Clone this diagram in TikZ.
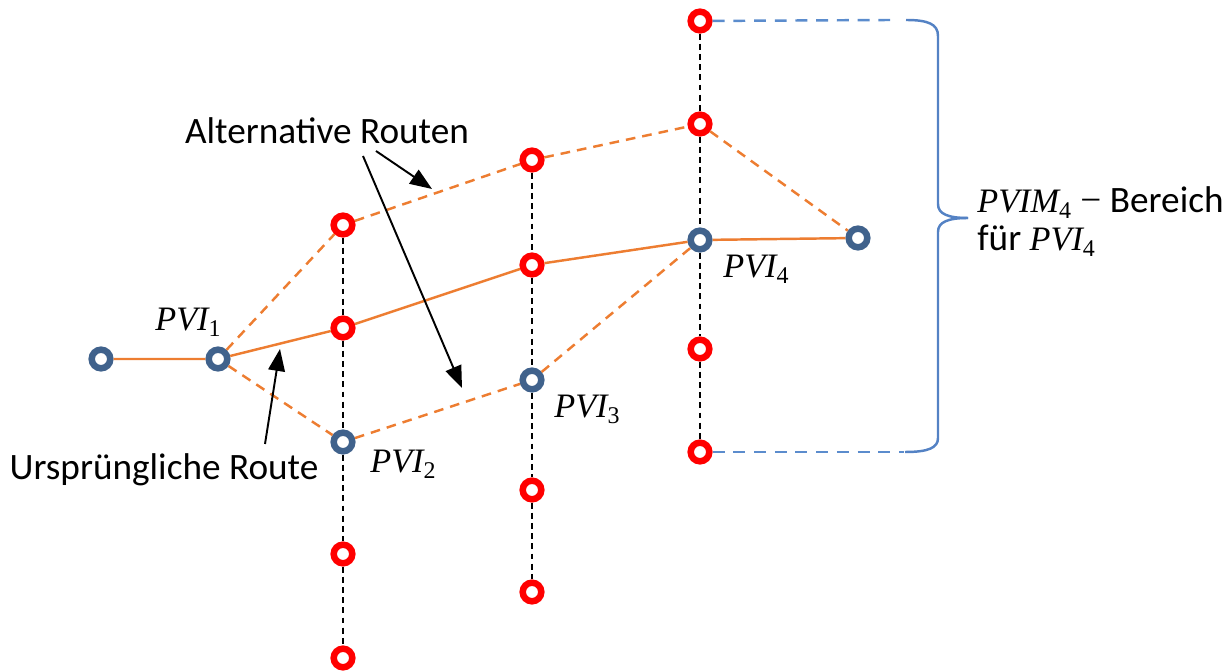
\documentclass[tikz,border=0pt]{standalone}
\usepackage{fontspec}
\setmainfont{Carlito}
\newfontfamily\mathfnt{Liberation Serif}
\newcommand\pvlabel[2]{{\mathfnt\itshape #1}\textsubscript{\mathfnt #2}}
\usetikzlibrary{arrows.meta}
\definecolor{routeorange}{RGB}{237,125,49}
\definecolor{pviblue}{RGB}{64,98,140}
\definecolor{braceblue}{RGB}{84,130,196}
\definecolor{dashblue}{RGB}{91,140,205}
\tikzset{
  ring/.style={circle, line width=3.7pt, fill=white, inner sep=0pt, minimum size=10.6pt},
  rnode/.style={ring, draw=red},
  bnode/.style={ring, draw=pviblue},
  route/.style={draw=routeorange, line width=1.4pt},
  altroute/.style={draw=routeorange, line width=1.4pt, dash pattern=on 5.5pt off 4pt},
  vline/.style={draw=black, line width=1.3pt, dash pattern=on 3.4pt off 2.4pt},
  hint/.style={draw=black, line width=1.1pt, -{Triangle[length=12.5pt,width=9.5pt]}},
  bline/.style={draw=dashblue, line width=1.4pt, dash pattern=on 6.8pt off 5pt},
  bracestyle/.style={draw=braceblue, line width=1.4pt},
  lbl/.style={inner sep=0pt, anchor=base west},
  mlbl/.style={inner sep=0pt, anchor=base west, font=\fontsize{19.5}{23}\selectfont}
}
\begin{document}
\begin{tikzpicture}[x=0.02cm, y=-0.02cm, font=\fontsize{21.2}{25}\selectfont]
\useasboundingbox (0,0) rectangle (1228,671);

% nodes
\node[bnode] (s) at (101,359) {};
\node[bnode] (p1) at (218,359) {};
\node[rnode] (a1) at (343,225) {};
\node[rnode] (a2) at (343,328) {};
\node[bnode] (a3) at (343,442) {};
\node[rnode] (a4) at (343,554) {};
\node[rnode] (a5) at (343,658) {};
\node[rnode] (b1) at (532,160) {};
\node[rnode] (b2) at (532,265) {};
\node[bnode] (b3) at (532,380) {};
\node[rnode] (b4) at (532,490) {};
\node[rnode] (b5) at (532,592) {};
\node[rnode] (c1) at (700,21) {};
\node[rnode] (c2) at (700,124) {};
\node[bnode] (c3) at (700,240) {};
\node[rnode] (c4) at (700,349) {};
\node[rnode] (c5) at (700,452) {};
\node[bnode] (e) at (858,238) {};

% vertical dashed lines
\draw[vline] (a1) -- (a2) (a2) -- (a3) (a3) -- (a4) (a4) -- (a5);
\draw[vline] (b1) -- (b2) (b2) -- (b3) (b3) -- (b4) (b4) -- (b5);
\draw[vline] (c1) -- (c2) (c2) -- (c3) (c3) -- (c4) (c4) -- (c5);

% original route
\draw[route] (s) -- (p1) (p1) -- (a2) (a2) -- (b2) (b2) -- (c3) (c3) -- (e);
% alternative routes
\draw[altroute] (p1) -- (a1) (a1) -- (b1) (b1) -- (c2) (c2) -- (e);
\draw[altroute] (p1) -- (a3) (a3) -- (b3) (b3) -- (c3);

% labels
\node (alt) at (327,131) {Alternative Routen};
\node (orig) at (164,470) {Ursprüngliche Route};
\node[mlbl] (l1) at (155,331) {\pvlabel{PVI}{1}};
\node[mlbl] (l2) at (370,473) {\pvlabel{PVI}{2}};
\node[mlbl] (l3) at (554,418) {\pvlabel{PVI}{3}};
\node[mlbl] (l4) at (723,278) {\pvlabel{PVI}{4}};
\node[lbl] (r1) at (977,213) {{\fontsize{19.5}{23}\selectfont\pvlabel{PVIM}{4}} {\mathfnt −} Bereich};
\node[lbl] (r2) at (977,251) {für {\fontsize{19.5}{23}\selectfont\pvlabel{PVI}{4}}};

% pointer arrows
\coordinate (t1) at (376,151);
\coordinate (h1) at (432,189);
\coordinate (t2) at (363,156);
\coordinate (h2) at (462,388);
\coordinate (t3) at (265,444);
\coordinate (h3) at (280,349);
\draw[hint] (t1) -- (h1);
\draw[hint] (t2) -- (h2);
\draw[hint] (t3) -- (h3);

% range brace
\coordinate (bt) at (890,20);
\coordinate (bb) at (904,452);
\draw[bline] (c1) -- (bt);
\draw[bline] (c5) -- (bb);
\coordinate (btop) at (906,20);
\coordinate (btip) at (968,218);
\coordinate (bbot) at (905,452);
\draw[bracestyle] (btop) .. controls (928,20) and (938,24) .. (938,36) -- (938,204)
  .. controls (938,214) and (948,218) .. (btip);
\draw[bracestyle] (btip) .. controls (948,218) and (938,222) .. (938,232) -- (938,438)
  .. controls (938,448) and (928,452) .. (bbot);
\end{tikzpicture}
\end{document}
